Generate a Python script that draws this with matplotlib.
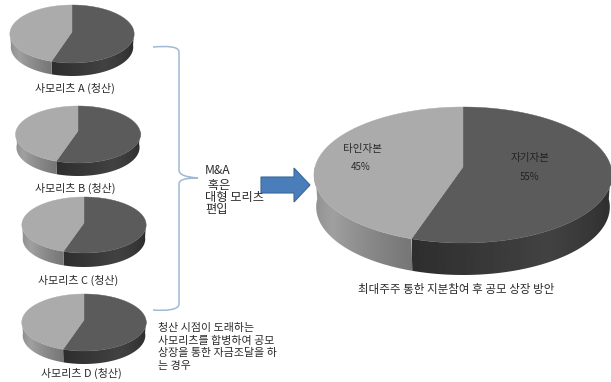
import numpy as np
import matplotlib
matplotlib.use("Agg")
import matplotlib.pyplot as plt
from matplotlib.patches import PathPatch, Polygon
from matplotlib.path import Path

plt.rcParams['font.family'] = ['Noto Sans CJK KR', 'DejaVu Sans']

# 자본 구성 (%)
own_share = 55
other_share = 45
own_label = "자기자본"
other_label = "타인자본"

fund_names = ["사모리츠 A (청산)", "사모리츠 B (청산)", "사모리츠 C (청산)", "사모리츠 D (청산)"]
merged_title = "최대주주 통한 지분참여 후 공모 상장 방안"
merge_lines = ["M&A", " 혹은", "대형 모리츠", "편입"]
note_lines = ["청산 시점이 도래하는", "사모리츠를 합병하여 공모", "상장을 통한 자금조달을 하", "는 경우"]

TEXT = "#2b2b2b"
DARK_TOP = "#5b5b5b"
LIGHT_TOP = "#ababab"
BRACKET = "#9fb9d6"

fig = plt.figure(figsize=(6.11, 3.82), dpi=100)
ax = fig.add_axes([0, 0, 1, 1])
ax.axis("off")


def rim(theta, cx, rx, top, apex, bottom):
    # 원근이 들어간 파이 윗면 가장자리 (theta: 12시부터 시계방향, 도)
    k = (2 * apex - top - bottom) / (top - bottom)
    a = top * (1 + k) - apex
    u = np.sin(np.radians(theta))
    v = np.cos(np.radians(theta))
    d = 1 + k * v
    return cx + rx * u / d, (a * v + apex) / d


def side_band(t0, t1, stops, colors, cx, rx, top, apex, bottom, depth):
    # 옆면 모양으로 잘라낸 가로 그라데이션
    ts = np.linspace(t0, t1, 120)
    x, y = rim(ts, cx, rx, top, apex, bottom)
    xb = cx + (x - cx) * 0.985
    yb = y + depth
    outline = np.r_[np.c_[x, y], np.c_[xb, yb][::-1]]
    order = np.argsort(x)
    grad = np.interp(x[order], x[order], np.interp(ts[order], stops, colors))
    xs = np.linspace(x.min(), x.max(), 200)
    row = np.interp(xs, x[order], grad).reshape(1, -1)
    im = ax.imshow(row, cmap="gray", vmin=0, vmax=255, aspect="auto",
                   extent=(x.min(), x.max(), yb.max() + 1, y.min() - 1), zorder=1)
    poly = Polygon(outline, facecolor="none", edgecolor="none", transform=ax.transData)
    ax.add_patch(poly)
    im.set_clip_path(poly)


def draw_pie(cx, rx, top, apex, bottom, depth):
    split = 360 * own_share / (own_share + other_share)
    # 옆면
    side_band(90, split, [90, 150, split], [38, 66, 46], cx, rx, top, apex, bottom, depth)
    side_band(split, 270, [split, 235, 270], [118, 160, 132], cx, rx, top, apex, bottom, depth)
    # 윗면
    t = np.linspace(0, split, 150)
    x, y = rim(t, cx, rx, top, apex, bottom)
    ax.add_patch(Polygon(np.r_[[[cx, apex]], np.c_[x, y]], facecolor=DARK_TOP, edgecolor=DARK_TOP,
                         linewidth=0.3, zorder=2))
    t = np.linspace(split, 360, 150)
    x, y = rim(t, cx, rx, top, apex, bottom)
    ax.add_patch(Polygon(np.r_[[[cx, apex]], np.c_[x, y]], facecolor=LIGHT_TOP, edgecolor=LIGHT_TOP,
                         linewidth=0.3, zorder=2))


# 왼쪽 사모리츠 4개
small_pies = [
    (72, 62, 5, 32, 63, 13),
    (78, 62, 106, 131, 163, 13),
    (84, 62, 197, 223, 253, 14),
    (84, 62, 294, 320, 351, 13),
]
label_pos = [(75, 88), (75, 188), (78, 280), (81, 373)]
for pie, name, pos in zip(small_pies, fund_names, label_pos):
    draw_pie(*pie)
    ax.text(pos[0], pos[1], name, fontsize=7.9, color=TEXT, ha="center", va="center")

# 오른쪽 합병 후 파이
draw_pie(463, 148, 107, 167, 243, 32)
ax.text(362, 149, other_label, fontsize=7.6, color=TEXT, ha="center", va="center", zorder=3)
ax.text(361, 167, f"{other_share}%", fontsize=7, color=TEXT, ha="center", va="center", zorder=3)
ax.text(530, 158, own_label, fontsize=7.6, color="#222222", ha="center", va="center", zorder=3)
ax.text(530, 177, f"{own_share}%", fontsize=7, color="#222222", ha="center", va="center", zorder=3)
ax.text(456, 289, merged_title, fontsize=8.3, color=TEXT, ha="center", va="center")

# 오른쪽 중괄호
verts = [(153, 47), (166, 46), (179, 46), (179, 52),
         (179, 170), (179, 175), (186, 177), (198, 178),
         (188, 178), (179, 179), (179, 184),
         (179, 304), (179, 310), (166, 311), (153, 310)]
codes = [Path.MOVETO, Path.CURVE4, Path.CURVE4, Path.CURVE4,
         Path.LINETO, Path.CURVE4, Path.CURVE4, Path.CURVE4,
         Path.CURVE4, Path.CURVE4, Path.CURVE4,
         Path.LINETO, Path.CURVE4, Path.CURVE4, Path.CURVE4]
ax.add_patch(PathPatch(Path(verts, codes), facecolor="none", edgecolor=BRACKET, linewidth=1.1))

# 파란 화살표
ax.add_patch(Polygon([(261, 177), (294, 177), (294, 168), (310, 185), (294, 202), (294, 193), (261, 193)],
                     facecolor="#4a7ebb", edgecolor="#3a679c", linewidth=0.8))

for line, y in zip(merge_lines, [170, 185, 198, 210]):
    ax.text(205, y, line, fontsize=8.8, color=TEXT, ha="left", va="center", zorder=3)
for line, y in zip(note_lines, [328, 341, 353, 366]):
    ax.text(158, y, line, fontsize=7.9, color=TEXT, ha="left", va="center")

# imshow가 축 범위를 바꾸므로 마지막에 고정
ax.set_xlim(0, 611)
ax.set_ylim(382, 0)

fig.savefig("out.png", dpi=100)
